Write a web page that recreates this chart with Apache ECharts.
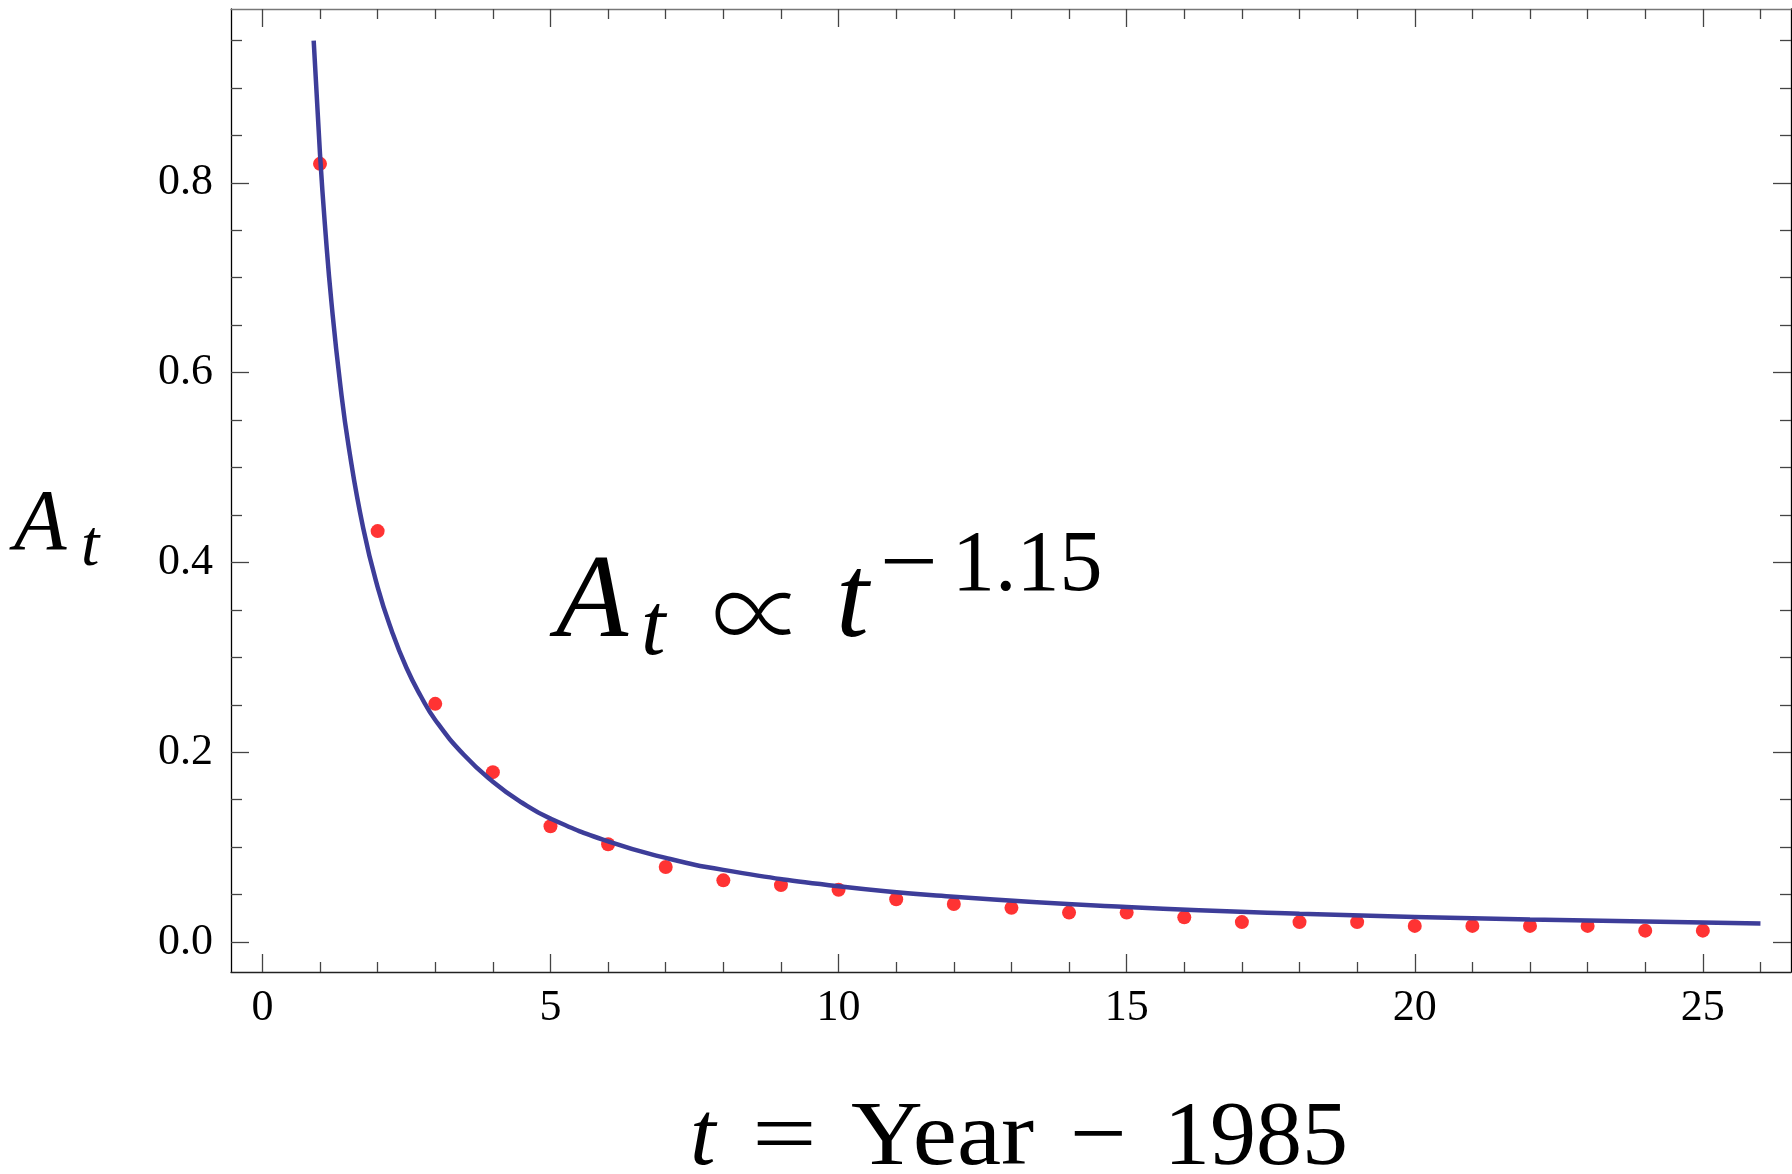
<!DOCTYPE html>
<html>
<head>
<meta charset="utf-8">
<script src="https://cdn.jsdelivr.net/npm/echarts@6/dist/echarts.min.js"></script>
<style>
  html, body { margin: 0; padding: 0; background: #fff; }
  #main { width: 1792px; height: 1174px; }
</style>
</head>
<body>
<div id="main"></div>
<script>
// 数据点: t = Year - 1985
const years = [1, 2, 3, 4, 5, 6, 7, 8, 9, 10, 11, 12, 13, 14, 15, 16, 17, 18, 19, 20, 21, 22, 23, 24, 25]
const shares = [0.820, 0.433, 0.251, 0.179, 0.122, 0.103, 0.079, 0.065, 0.060, 0.055, 0.045, 0.040, 0.036,
  0.031, 0.031, 0.026, 0.021, 0.021, 0.021, 0.017, 0.017, 0.017, 0.017, 0.012, 0.012]

// 拟合曲线 (从图上读出的点)
const fitT = [0.89, 1, 1.1, 1.2, 1.35, 1.5, 1.75, 2, 2.25, 2.5, 2.75, 3, 3.5, 4, 4.5, 5, 6, 7, 8, 10, 12, 15, 18, 22, 26]
const fitA = [0.950, 0.830, 0.744, 0.673, 0.588, 0.521, 0.436, 0.374, 0.327, 0.289, 0.259, 0.234, 0.197, 0.169,
  0.147, 0.130, 0.106, 0.0886, 0.076, 0.0588, 0.0477, 0.0369, 0.0299, 0.0237, 0.0196]

// 刻度
const xMajor = [0, 5, 10, 15, 20, 25]
const xMinor = [1, 2, 3, 4, 6, 7, 8, 9, 11, 12, 13, 14, 16, 17, 18, 19, 21, 22, 23, 24, 26]
const yMajor = [0, 0.2, 0.4, 0.6, 0.8]
const yMinor = [0.05, 0.1, 0.15, 0.25, 0.3, 0.35, 0.45, 0.5, 0.55, 0.65, 0.7, 0.75, 0.85, 0.9, 0.95]

const xMin = -0.545, xMax = 26.53
const yMin = -0.0316, yMax = 0.9832

const serif = '"Liberation Serif", "Times New Roman", serif'
const propFont = '"Noto Sans CJK JP", "DejaVu Serif", serif'

var myChart = echarts.init(document.getElementById('main'), null, { renderer: 'canvas' })

// 轴: 主刻度/次刻度分开画
function xAxis(pos, ticks, len, lineColor, labels) {
  return {
    type: 'value', position: pos, min: xMin, max: xMax,
    axisLine: { show: lineColor != null, onZero: false, lineStyle: { color: lineColor || '#000', width: 1.3 } },
    axisTick: { show: true, inside: true, length: len, customValues: ticks, lineStyle: { color: '#444', width: 1.3 } },
    axisLabel: labels ? {
      show: true, customValues: xMajor, margin: 14, color: '#000', fontFamily: serif, fontSize: 44
    } : { show: false },
    splitLine: { show: false }
  }
}
function yAxis(pos, ticks, len, lineColor, labels) {
  return {
    type: 'value', position: pos, min: yMin, max: yMax,
    axisLine: { show: lineColor != null, onZero: false, lineStyle: { color: lineColor || '#000', width: 1.3 } },
    axisTick: { show: true, inside: true, length: len, customValues: ticks, lineStyle: { color: '#444', width: 1.3 } },
    axisLabel: labels ? {
      show: true, customValues: yMajor, margin: 18, color: '#000', fontFamily: serif, fontSize: 44,
      formatter: v => v.toFixed(1)
    } : { show: false },
    splitLine: { show: false }
  }
}

// 文字 (按基线放置)
function txt(str, x, base, size, italic, family, sx, weight) {
  return {
    type: 'text', x: x, y: base - 0.3 * size, scaleX: sx || 1, silent: true,
    style: {
      text: str, fill: '#000',
      font: (italic ? 'italic ' : 'normal ') + (weight || 'normal') + ' ' + size + 'px ' + (family || serif),
      align: 'left', verticalAlign: 'middle', textAlign: 'left', textVerticalAlign: 'middle'
    }
  }
}

myChart.setOption({
  animation: false,
  backgroundColor: '#fff',
  grid: { left: 231, right: 1, top: 9, bottom: 202, containLabel: false },
  xAxis: [
    xAxis('bottom', xMajor, 18, '#222', true),
    xAxis('bottom', xMinor, 10, null, false),
    xAxis('top', xMajor, 18, '#777', false),
    xAxis('top', xMinor, 10, null, false)
  ],
  yAxis: [
    yAxis('left', yMajor, 18, '#000', true),
    yAxis('left', yMinor, 11, null, false),
    yAxis('right', yMajor, 18, '#000', false),
    yAxis('right', yMinor, 11, null, false)
  ],
  series: [
    {
      type: 'scatter', xAxisIndex: 0, yAxisIndex: 0,
      symbol: 'circle', symbolSize: 14,
      itemStyle: { color: '#ff0000' },
      data: years.map((t, i) => [t, shares[i]]),
      z: 2
    },
    {
      type: 'line', xAxisIndex: 0, yAxisIndex: 0,
      smooth: 0.5, showSymbol: false,
      lineStyle: { color: '#3d3d99', width: 4.5 },
      data: fitT.map((t, i) => [t, fitA[i]]),
      z: 3
    }
  ],
  graphic: [
    // y 轴标题 A_t
    txt('A', 14, 552, 86, true),
    txt('t', 81, 567, 66, true),
    // x 轴标题 t = Year − 1985
    txt('t', 690, 1167, 92, true),
    txt('=', 752, 1167, 92, false, serif, 1.25),
    txt('Year', 851, 1167, 92, false, serif, 1.08),
    txt('\u2212', 1070, 1167, 92, false, serif, 1.1),
    txt('1985', 1164, 1167, 92, false),
    // 图中注释 A_t ∝ t^-1.15
    txt('A', 556, 640, 118, true),
    txt('t', 641, 657, 88, true),
    txt('\u221d', 712, 645, 108, false, propFont, 0.86, 300),
    txt('t', 836, 640, 118, true),
    txt('\u2212', 880, 593, 86, false, serif, 1.2),
    txt('1.15', 952, 593, 86, false)
  ]
})
</script>
</body>
</html>
